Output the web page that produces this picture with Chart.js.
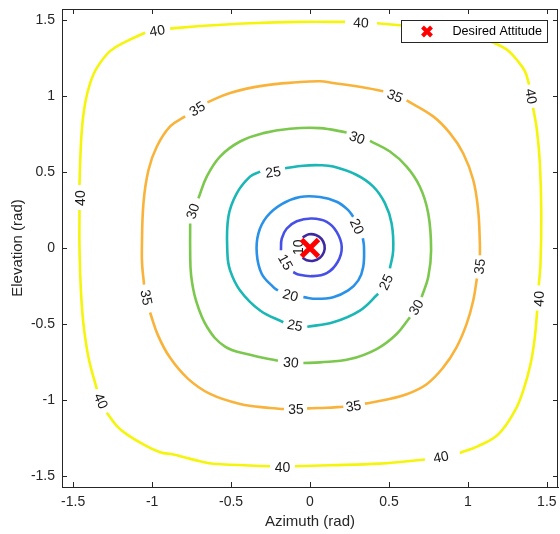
<!DOCTYPE html>
<html>
<head>
<meta charset="utf-8">
<title>Attitude error contours</title>
<script src="https://cdn.jsdelivr.net/npm/chart.js@4.4.1/dist/chart.umd.min.js"></script>
<style>
  html, body { margin: 0; padding: 0; background: #fff; }
  #wrap { width: 560px; height: 534px; }
</style>
</head>
<body>
<div id="wrap"><canvas id="contourChart" width="560" height="534"></canvas></div>
<script>
// contour levels (deg) and their colours
const levels = [10, 15, 20, 25, 30, 35, 40];
const levelColors = ['#3e2aa0', '#4650e6', '#2a91e8', '#1bb6b6', '#7cc84e', '#f9b33a', '#f5f50c'];

const xTicks = [-1.5, -1, -0.5, 0, 0.5, 1, 1.5];
const yTicks = [-1.5, -1, -0.5, 0, 0.5, 1, 1.5];
const axisLimit = 1.5708;

const target = [0, 0];

// each contour is a list of pieces [azimuth, elevation];
// label k sits in the gap between piece k and piece k+1
const contour10 = [
  [[-0.047, 0.070], [-0.007, 0.090], [0.037, 0.086], [0.073, 0.060], [0.092, 0.018], [0.088, -0.027],
   [0.063, -0.064], [0.023, -0.084], [-0.021, -0.080], [-0.047, -0.064]]
];
const labels10 = [[-0.073, 0.005]];

const contour15 = [
  [[-0.106, -0.158], [-0.074, -0.174], [0.011, -0.185], [0.106, -0.165], [0.175, -0.092], [0.201, 0.007],
   [0.169, 0.106], [0.106, 0.172], [0.011, 0.194], [-0.084, 0.176], [-0.147, 0.128], [-0.179, 0.062], [-0.184, -0.015]]
];
const labels15 = [[-0.154, -0.092]];

const contour20 = [
  [[-0.042, -0.323], [0.042, -0.334], [0.147, -0.323], [0.242, -0.279], [0.306, -0.213], [0.337, -0.125],
   [0.342, 0.007], [0.335, 0.064]],
  [[0.274, 0.205], [0.242, 0.249], [0.169, 0.304], [0.063, 0.335], [-0.063, 0.335], [-0.179, 0.288],
   [-0.274, 0.205], [-0.327, 0.095], [-0.337, -0.037], [-0.306, -0.169], [-0.232, -0.257], [-0.203, -0.279]]
];
const labels20 = [[0.299, 0.143], [-0.123, -0.309]];

const contour25 = [
  [[-0.158, 0.524], [-0.042, 0.541], [0.063, 0.544], [0.147, 0.535], [0.296, 0.480], [0.401, 0.403],
   [0.475, 0.293], [0.517, 0.161], [0.527, -0.015], [0.506, -0.134]],
  [[0.432, -0.301], [0.316, -0.411], [0.147, -0.488], [-0.017, -0.517]],
  [[-0.169, -0.488], [-0.316, -0.411], [-0.443, -0.279], [-0.506, -0.147], [-0.523, -0.037], [-0.517, 0.205],
   [-0.464, 0.359], [-0.380, 0.469], [-0.316, 0.502]]
];
const labels25 = [[0.481, -0.224], [-0.095, -0.507], [-0.234, 0.500]];

const contour30 = [
  [[-0.707, 0.326], [-0.654, 0.469], [-0.570, 0.601], [-0.443, 0.700], [-0.296, 0.755], [-0.127, 0.784],
   [0.063, 0.788], [0.232, 0.759]],
  [[0.380, 0.704], [0.506, 0.634], [0.612, 0.535], [0.696, 0.403], [0.749, 0.227], [0.767, -0.015],
   [0.749, -0.191], [0.707, -0.323]],
  [[0.633, -0.455], [0.549, -0.565], [0.422, -0.664], [0.253, -0.730], [0.063, -0.752], [-0.042, -0.756]],
  [[-0.203, -0.741], [-0.380, -0.702], [-0.538, -0.648], [-0.652, -0.519], [-0.722, -0.345], [-0.753, -0.180],
   [-0.759, -0.015], [-0.759, 0.161]]
];
const labels30 = [[0.299, 0.726], [0.671, -0.389], [-0.120, -0.751], [-0.744, 0.242]];

const contour35 = [
  [[-0.650, 0.957], [-0.506, 1.019], [-0.296, 1.067], [-0.084, 1.089], [0.063, 1.096], [0.147, 1.085],
   [0.359, 1.052], [0.464, 1.030]],
  [[0.612, 0.970], [0.780, 0.865], [0.886, 0.755], [0.970, 0.623], [1.034, 0.447], [1.065, 0.249],
   [1.076, 0.029], [1.076, -0.048]],
  [[1.057, -0.200], [1.034, -0.345], [0.992, -0.499], [0.928, -0.653], [0.844, -0.785], [0.739, -0.895],
   [0.612, -0.961], [0.464, -1.001], [0.348, -1.023]],
  [[0.211, -1.043], [0.106, -1.050], [0.011, -1.053], [-0.019, -1.055]],
  [[-0.165, -1.058], [-0.253, -1.052], [-0.443, -1.025], [-0.633, -0.959], [-0.772, -0.860], [-0.886, -0.722],
   [-0.962, -0.576], [-1.013, -0.424]],
  [[-1.051, -0.240], [-1.063, -0.114], [-1.065, -0.015], [-1.055, 0.293], [-1.023, 0.513], [-0.970, 0.667],
   [-0.886, 0.799], [-0.791, 0.865]]
];
const labels35 = [[0.538, 1.001], [1.073, -0.121], [0.275, -1.038], [-0.089, -1.058], [-1.035, -0.325], [-0.715, 0.916]];

const contour40 = [
  [[-0.886, 1.442], [-0.696, 1.459], [-0.380, 1.477], [-0.063, 1.486], [0.222, 1.486]],
  [[0.424, 1.477], [0.570, 1.464], [0.759, 1.447], [0.949, 1.420], [1.076, 1.391], [1.139, 1.360],
   [1.245, 1.305], [1.308, 1.239], [1.361, 1.162], [1.388, 1.074]],
  [[1.413, 0.922], [1.437, 0.777], [1.456, 0.557], [1.465, 0.227], [1.460, -0.103], [1.449, -0.246]],
  [[1.439, -0.411], [1.424, -0.587], [1.397, -0.763], [1.350, -0.939], [1.297, -1.071], [1.192, -1.225],
   [1.065, -1.302], [0.949, -1.347]],
  [[0.728, -1.390], [0.570, -1.406], [0.443, -1.417], [0.127, -1.428], [-0.095, -1.434]],
  [[-0.253, -1.434], [-0.612, -1.418], [-0.696, -1.401], [-0.780, -1.380], [-0.865, -1.357], [-0.949, -1.342],
   [-1.055, -1.291], [-1.160, -1.225], [-1.223, -1.170], [-1.287, -1.083]],
  [[-1.350, -0.928], [-1.403, -0.719], [-1.435, -0.499], [-1.451, -0.279], [-1.460, 0.007], [-1.460, 0.249]],
  [[-1.460, 0.414], [-1.456, 0.557], [-1.445, 0.777], [-1.424, 0.953], [-1.392, 1.085], [-1.350, 1.184],
   [-1.266, 1.294], [-1.160, 1.360], [-1.044, 1.415]]
];
const labels40 = [[0.323, 1.483], [1.402, 0.997], [1.449, -0.334], [0.829, -1.372], [-0.174, -1.438],
                  [-1.323, -1.005], [-1.459, 0.328], [-0.968, 1.430]];

const contours = [contour10, contour15, contour20, contour25, contour30, contour35, contour40];
const contourLabels = [labels10, labels15, labels20, labels25, labels30, labels35, labels40];

const fontFamily = '"Liberation Sans", Arial, Helvetica, sans-serif';
const axisColor = '#262626';
Chart.defaults.font.family = fontFamily;
Chart.defaults.color = axisColor;

// one line dataset per contour piece
const datasets = [];
levels.forEach((lvl, i) => {
  contours[i].forEach(piece => {
    datasets.push({
      label: String(lvl),
      data: piece.map(p => ({ x: p[0], y: p[1] })),
      showLine: true,
      pointRadius: 0,
      borderColor: levelColors[i],
      borderWidth: 2.6,
      tension: 0.4,
      order: 1
    });
  });
});
const markerIndex = datasets.length;
datasets.push({
  label: 'Desired Attitude',
  data: [{ x: target[0], y: target[1] }],
  showLine: false,
  pointStyle: 'crossRot',
  pointRadius: 12,
  borderColor: '#ff0000',
  backgroundColor: '#ff0000',
  borderWidth: 5,
  order: 0
});

// contour level text, rotated along the line, drawn just under the marker
const contourText = {
  id: 'contourText',
  beforeDatasetDraw(chart, args) {
    if (args.index !== markerIndex) return;
    const { ctx, scales: { x, y } } = chart;
    ctx.save();
    ctx.font = '14px ' + fontFamily;
    ctx.fillStyle = '#1a1a1a';
    ctx.textAlign = 'center';
    ctx.textBaseline = 'middle';
    contourLabels.forEach((list, i) => {
      const pieces = contours[i];
      list.forEach((pos, k) => {
        const a = pieces[k][pieces[k].length - 1];
        const b = pieces[(k + 1) % pieces.length][0];
        let ang = Math.atan2(y.getPixelForValue(b[1]) - y.getPixelForValue(a[1]),
                             x.getPixelForValue(b[0]) - x.getPixelForValue(a[0]));
        if (ang >= Math.PI / 2) ang -= Math.PI;
        if (ang < -Math.PI / 2) ang += Math.PI;
        ctx.save();
        ctx.translate(x.getPixelForValue(pos[0]), y.getPixelForValue(pos[1]));
        ctx.rotate(ang);
        ctx.fillText(String(levels[i]), 0, 1);
        ctx.restore();
      });
    });
    ctx.restore();
  }
};

// top/right box edges and inward tick marks on all four sides
const axesBox = {
  id: 'axesBox',
  afterDraw(chart) {
    const { ctx, chartArea: ca, scales: { x, y } } = chart;
    const len = 5;
    ctx.save();
    ctx.strokeStyle = axisColor;
    ctx.lineWidth = 1;
    ctx.beginPath();
    ctx.moveTo(ca.left, Math.round(ca.top) + 0.5);
    ctx.lineTo(ca.right, Math.round(ca.top) + 0.5);
    ctx.moveTo(Math.round(ca.right) - 0.5, ca.top);
    ctx.lineTo(Math.round(ca.right) - 0.5, ca.bottom);
    xTicks.forEach(v => {
      const px = Math.round(x.getPixelForValue(v)) + 0.5;
      ctx.moveTo(px, ca.bottom); ctx.lineTo(px, ca.bottom - len);
      ctx.moveTo(px, ca.top); ctx.lineTo(px, ca.top + len);
    });
    yTicks.forEach(v => {
      const py = Math.round(y.getPixelForValue(v)) + 0.5;
      ctx.moveTo(ca.left, py); ctx.lineTo(ca.left + len, py);
      ctx.moveTo(ca.right, py); ctx.lineTo(ca.right - len, py);
    });
    ctx.stroke();
    ctx.restore();
  }
};

// boxed legend in the upper right corner of the axes
const legendBox = {
  id: 'legendBox',
  afterDraw(chart) {
    const { ctx, chartArea: ca } = chart;
    const w = 146, h = 22;
    const left = Math.round(ca.right - 11 - w) + 0.5;
    const top = Math.round(ca.top + 11) + 0.5;
    ctx.save();
    ctx.fillStyle = '#ffffff';
    ctx.fillRect(left, top, w, h);
    ctx.strokeStyle = axisColor;
    ctx.lineWidth = 1;
    ctx.strokeRect(left, top, w, h);
    const mx = left + 25.5, my = top + h / 2;
    ctx.strokeStyle = '#ff0000';
    ctx.lineWidth = 4;
    ctx.beginPath();
    ctx.moveTo(mx - 4.5, my - 4.5); ctx.lineTo(mx + 4.5, my + 4.5);
    ctx.moveTo(mx + 4.5, my - 4.5); ctx.lineTo(mx - 4.5, my + 4.5);
    ctx.stroke();
    ctx.fillStyle = '#000000';
    ctx.font = '12.6px ' + fontFamily;
    ctx.textAlign = 'left';
    ctx.textBaseline = 'middle';
    ctx.fillText(chart.data.datasets[markerIndex].label, left + 51, my + 0.5);
    ctx.restore();
  }
};

// invisible tick marks push the labels away from the axes
const hiddenTicks = {
  display: true,
  drawOnChartArea: false,
  drawTicks: true,
  tickLength: 7,
  tickColor: 'rgba(0,0,0,0)'
};

new Chart(document.getElementById('contourChart'), {
  type: 'scatter',
  data: { datasets },
  options: {
    responsive: false,
    animation: false,
    events: [],
    layout: { autoPadding: false, padding: { left: 0, top: 9, right: 2, bottom: 0 } },
    plugins: {
      legend: { display: false },
      tooltip: { enabled: false }
    },
    scales: {
      x: {
        type: 'linear',
        min: -axisLimit,
        max: axisLimit,
        afterBuildTicks: s => { s.ticks = xTicks.map(v => ({ value: v })); },
        afterFit: s => { s.height = 47; },
        grid: hiddenTicks,
        border: { display: true, color: axisColor, width: 1 },
        ticks: { padding: 0, color: axisColor, font: { size: 14 }, maxRotation: 0, autoSkip: false, callback: v => String(v) },
        title: { display: true, text: 'Azimuth (rad)', color: axisColor, font: { size: 15 }, padding: { top: 0, bottom: 3 } }
      },
      y: {
        type: 'linear',
        min: -axisLimit,
        max: axisLimit,
        afterBuildTicks: s => { s.ticks = yTicks.map(v => ({ value: v })); },
        afterFit: s => { s.width = 62; },
        grid: hiddenTicks,
        border: { display: true, color: axisColor, width: 1 },
        ticks: { padding: 0, color: axisColor, font: { size: 14 }, autoSkip: false, callback: v => String(v) },
        title: { display: true, text: 'Elevation (rad)', color: axisColor, font: { size: 15 }, padding: { top: 9, bottom: 0 } }
      }
    }
  },
  plugins: [contourText, axesBox, legendBox]
});
</script>
</body>
</html>
